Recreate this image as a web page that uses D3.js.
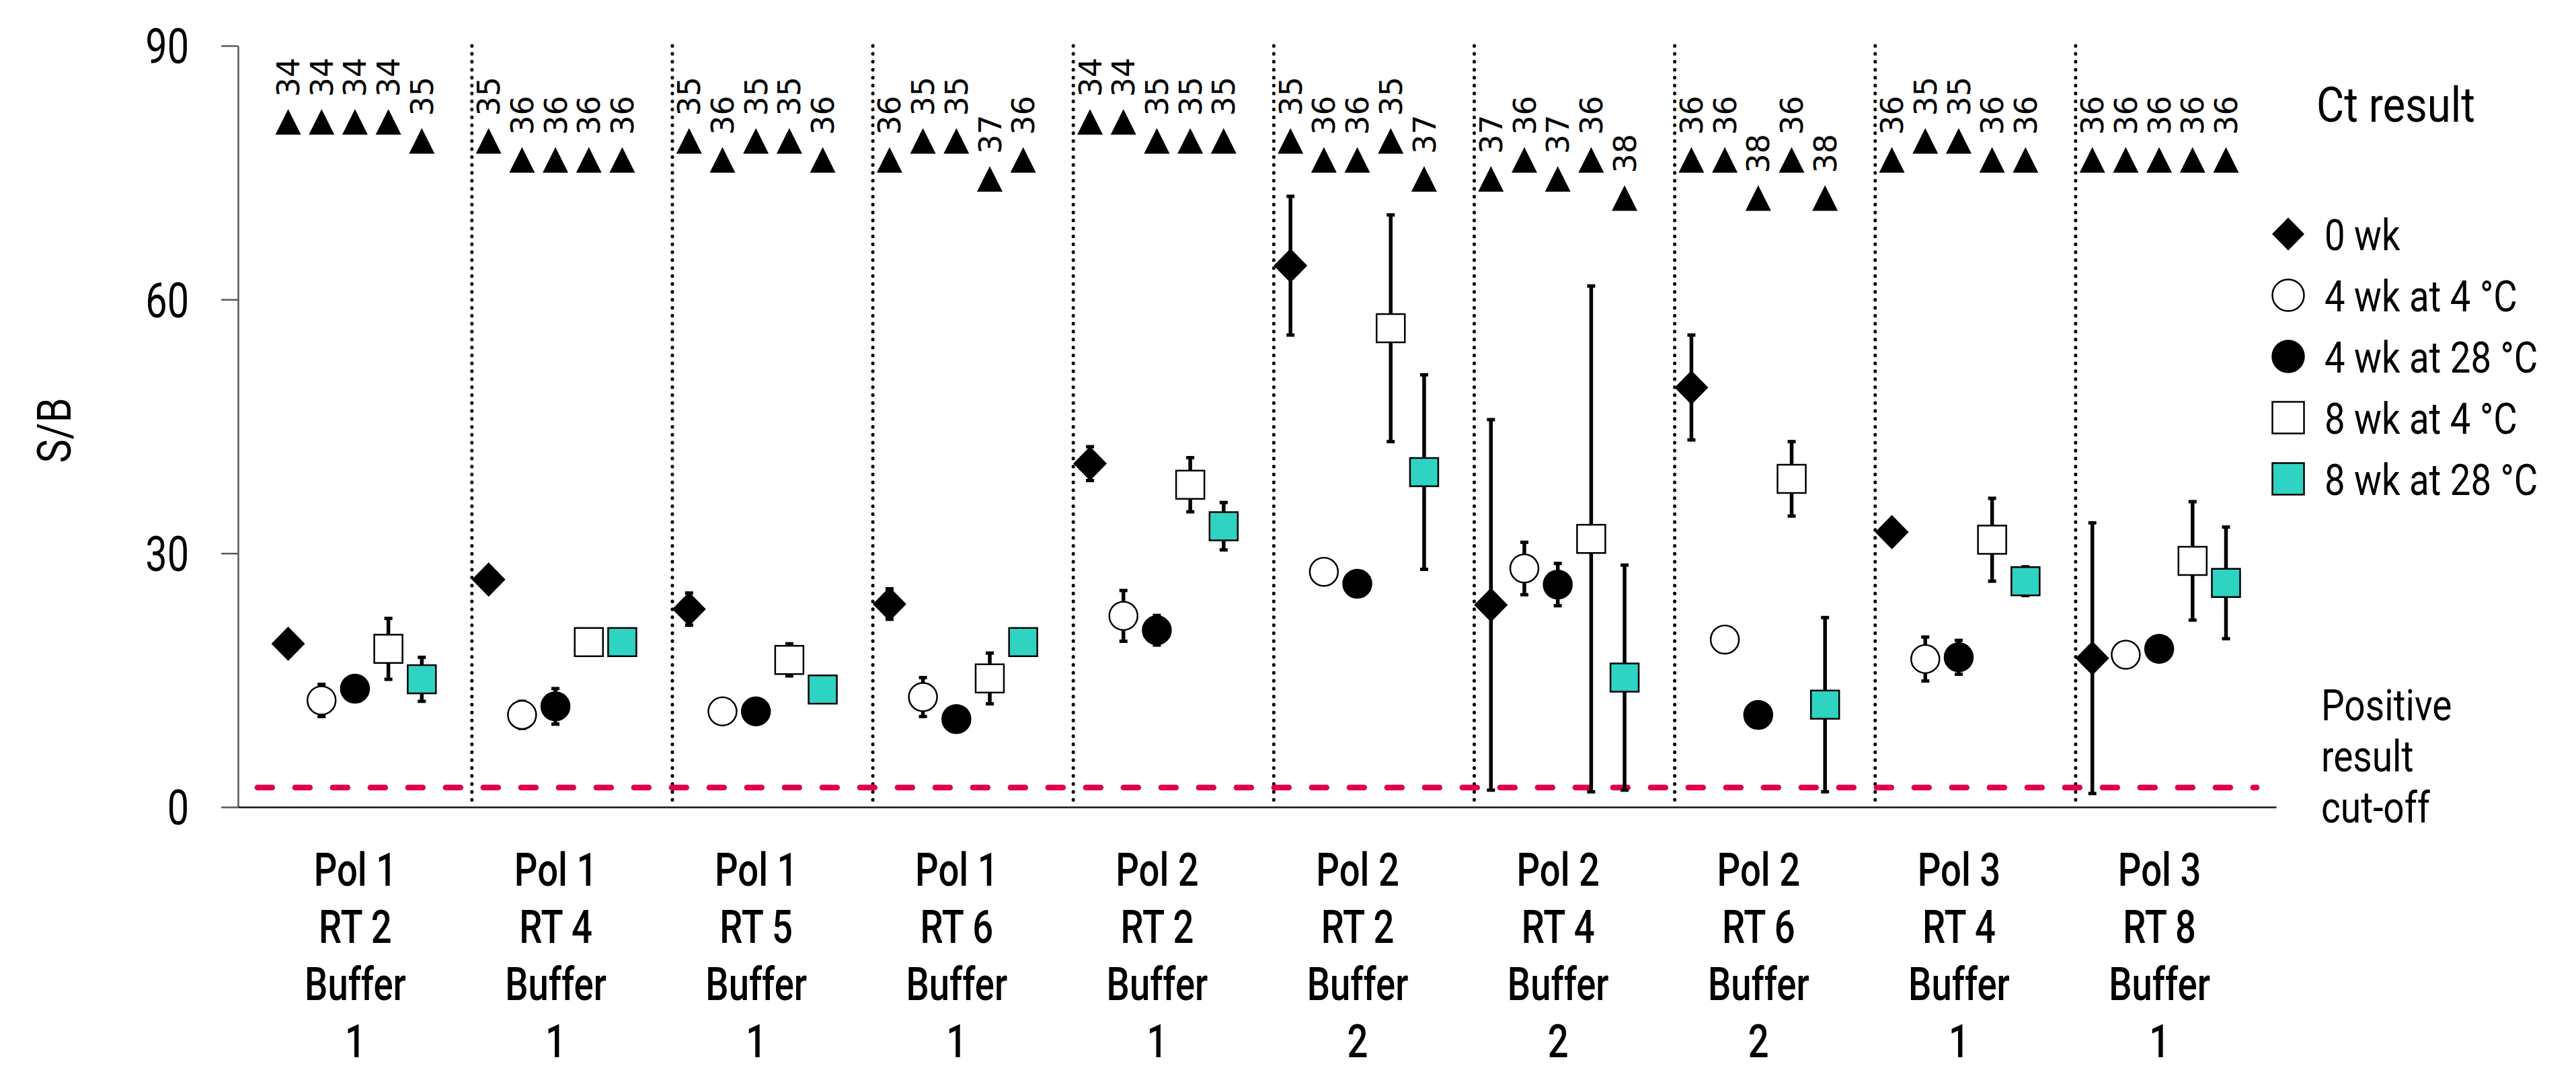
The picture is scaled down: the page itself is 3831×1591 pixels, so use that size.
<!DOCTYPE html>
<html lang="en">
<head>
<meta charset="utf-8">
<title>S/B and Ct result by storage condition</title>
<script src="https://d3js.org/d3.v7.min.js"></script>
<style>
  html, body { margin: 0; padding: 0; background: #fff; overflow: hidden; }
  svg { display: block; font-family: Roboto, "Open Sans", sans-serif; }
</style>
</head>
<body>
<div id="chart"></div>
<script>
// ---- values ----
var pol    = ["Pol 1", "Pol 1", "Pol 1", "Pol 1", "Pol 2", "Pol 2", "Pol 2", "Pol 2", "Pol 3", "Pol 3"];
var rt     = ["RT 2", "RT 4", "RT 5", "RT 6", "RT 2", "RT 2", "RT 4", "RT 6", "RT 4", "RT 8"];
var buffer = ["1", "1", "1", "1", "1", "2", "2", "2", "1", "1"];

var seriesNames = ["0 wk", "4 wk at 4 °C", "4 wk at 28 °C", "8 wk at 4 °C", "8 wk at 28 °C"];

// mean S/B
var sb0    = [19.3, 26.9, 23.4, 24.0, 40.6, 64.0, 23.9, 49.6, 32.5, 17.6];
var sb4c4  = [12.6, 10.9, 11.3, 13.0, 22.6, 27.8, 28.2, 19.8, 17.5, 18.0];
var sb4c28 = [14.0, 11.9, 11.3, 10.4, 20.9, 26.4, 26.3, 10.9, 17.7, 18.7];
var sb8c4  = [18.7, 19.5, 17.4, 15.2, 38.1, 56.6, 31.7, 38.8, 31.6, 29.1];
var sb8c28 = [15.1, 19.5, 13.9, 19.5, 33.2, 39.6, 15.3, 12.1, 26.7, 26.5];

// error bar half-lengths (0 = none visible)
var err0    = [0, 0, 1.9, 1.8, 2.0, 8.2, 21.9, 6.2, 0, 16.0];
var err4c4  = [1.9, 1.6, 0, 2.3, 3.0, 0, 3.1, 0, 2.6, 0];
var err4c28 = [0, 2.1, 0, 0, 1.75, 0, 2.5, 0, 2.0, 0];
var err8c4  = [3.6, 0, 1.9, 3.0, 3.2, 13.4, 29.9, 4.4, 4.9, 7.0];
var err8c28 = [2.6, 0, 0, 0, 2.8, 11.5, 13.3, 10.3, 1.7, 6.6];

// Ct result
var ct0    = [34, 35, 35, 36, 34, 35, 37, 36, 36, 36];
var ct4c4  = [34, 36, 36, 35, 34, 36, 36, 36, 35, 36];
var ct4c28 = [34, 36, 35, 35, 35, 36, 37, 38, 35, 36];
var ct8c4  = [34, 36, 35, 37, 35, 35, 36, 36, 36, 36];
var ct8c28 = [35, 36, 36, 36, 35, 37, 38, 38, 36, 36];

var cutoff = 2.3;
var yTicks = [0, 30, 60, 90];

// ---- layout ----
var W = 3831, H = 1591;
var teal = "#2ed3c2", red = "#e0004d";

var series = [
  {name: seriesNames[0], val: sb0,    err: err0,    ct: ct0,    shape: "diamond", fill: "#000"},
  {name: seriesNames[1], val: sb4c4,  err: err4c4,  ct: ct4c4,  shape: "circle",  fill: "#fff"},
  {name: seriesNames[2], val: sb4c28, err: err4c28, ct: ct4c28, shape: "circle",  fill: "#000"},
  {name: seriesNames[3], val: sb8c4,  err: err8c4,  ct: ct8c4,  shape: "square",  fill: "#fff"},
  {name: seriesNames[4], val: sb8c28, err: err8c28, ct: ct8c28, shape: "square",  fill: teal}
];

var svg = d3.select("#chart").append("svg")
    .attr("width", W)
    .attr("height", H);

// each group takes 6 slots: 5 markers + a gap
var x = d3.scaleLinear().domain([-0.5, 60.5]).range([354, 3385]);
var y = d3.scaleLinear().domain([0, 90]).range([1200, 68]);
// Ct value -> height on the S/B axis where the triangle sits
var ctScale = d3.scaleLinear().domain([34, 38]).range([81, 72]);

function slot(i, j) { return 6 * i + j + 1; }

function shapePath(shape, s) {
  var h = s / 2;
  if (shape === "diamond") {
    var w = h * 0.98;
    return "M0," + (-h) + "L" + w + ",0L0," + h + "L" + (-w) + ",0Z";
  }
  if (shape === "square") {
    return "M" + (-h) + "," + (-h) + "h" + s + "v" + s + "h" + (-s) + "Z";
  }
  if (shape === "triangle") {
    return "M0," + (-h) + "L" + h + "," + h + "L" + (-h) + "," + h + "Z";
  }
  // circle
  return "M" + (-h) + ",0a" + h + "," + h + " 0 1,0 " + s + ",0a" + h + "," + h + " 0 1,0 " + (-s) + ",0Z";
}

// ---- y axis ----
var gy = svg.append("g")
    .attr("transform", "translate(" + x(-0.5) + ",0)")
    .call(d3.axisLeft(y).tickValues(yTicks).tickSize(25).tickSizeOuter(0));
gy.select(".domain").attr("stroke", "#595959").attr("stroke-width", 2.5);
gy.selectAll(".tick line").attr("stroke", "#595959").attr("stroke-width", 2.5);
gy.selectAll(".tick text")
    .attr("font-size", 72)
    .attr("font-family", "Roboto, sans-serif")
    .attr("fill", "#000")
    .attr("x", -73 / 0.8)
    .attr("dy", "0.36em")
    .attr("transform", "scale(0.8,1)");

svg.append("text")
    .attr("transform", "translate(80,640) rotate(-90) scale(0.85,1)")
    .attr("text-anchor", "middle")
    .attr("dy", "0.36em")
    .attr("font-size", 70)
    .text("S/B");

// ---- x axis with stacked category labels ----
var gx = svg.append("g")
    .attr("transform", "translate(0," + y(0) + ")")
    .call(d3.axisBottom(x)
      .tickValues(d3.range(pol.length).map(function (i) { return 6 * i + 3; }))
      .tickSize(0)
      .tickSizeOuter(0));
gx.select(".domain").attr("stroke", "#111").attr("stroke-width", 2.5);
gx.selectAll(".tick text").each(function (d, i) {
  var t = d3.select(this).text(null).attr("dy", null)
      .attr("font-size", 68)
      .attr("font-weight", 500)
      .attr("font-family", "Roboto, sans-serif")
      .attr("fill", "#000")
      .attr("transform", "scale(0.8,1)");
  [pol[i], rt[i], "Buffer", buffer[i]].forEach(function (s, k) {
    t.append("tspan").attr("x", 0).attr("y", 117 + k * 85).text(s);
  });
});

// ---- group dividers ----
svg.append("g").selectAll("line")
  .data(d3.range(1, pol.length))
  .join("line")
    .attr("x1", function (k) { return x(6 * k + 0.5); })
    .attr("x2", function (k) { return x(6 * k + 0.5); })
    .attr("y1", y(90))
    .attr("y2", y(0))
    .attr("stroke", "#000")
    .attr("stroke-width", 5)
    .attr("stroke-linecap", "round")
    .attr("stroke-dasharray", "0.5,11.3");

// ---- positive cut-off ----
svg.append("line")
    .attr("x1", x(0) + 4).attr("x2", x(60) - 4)
    .attr("y1", y(cutoff)).attr("y2", y(cutoff))
    .attr("stroke", red)
    .attr("stroke-width", 8.5)
    .attr("stroke-linecap", "round")
    .attr("stroke-dasharray", "22,34");

// ---- points ----
var pts = [];
series.forEach(function (s, j) {
  s.val.forEach(function (v, i) {
    pts.push({i: i, j: j, v: v, e: s.err[i], ct: s.ct[i], s: s});
  });
});

var gErr = svg.append("g").attr("stroke", "#000");
pts.filter(function (d) { return d.e > 0; }).forEach(function (d) {
  var cx = x(slot(d.i, d.j));
  gErr.append("line")
      .attr("x1", cx).attr("x2", cx)
      .attr("y1", y(d.v + d.e)).attr("y2", y(d.v - d.e))
      .attr("stroke-width", 5.5);
  [d.v + d.e, d.v - d.e].forEach(function (b) {
    gErr.append("line")
        .attr("x1", cx - 6).attr("x2", cx + 6)
        .attr("y1", y(b)).attr("y2", y(b))
        .attr("stroke-width", 5);
  });
});

svg.append("g").selectAll("path")
  .data(pts)
  .join("path")
    .attr("transform", function (d) { return "translate(" + x(slot(d.i, d.j)) + "," + y(d.v) + ")"; })
    .attr("d", function (d) { return shapePath(d.s.shape, d.s.shape === "diamond" ? 51 : 42); })
    .attr("fill", function (d) { return d.s.fill; })
    .attr("stroke", "#000")
    .attr("stroke-width", function (d) { return d.s.shape === "diamond" ? 0 : 2.5; });

// ---- Ct triangles and labels ----
svg.append("g").selectAll("path")
  .data(pts)
  .join("path")
    .attr("transform", function (d) { return "translate(" + x(slot(d.i, d.j)) + "," + y(ctScale(d.ct)) + ")"; })
    .attr("d", shapePath("triangle", 38))
    .attr("fill", "#000");

svg.append("g").selectAll("text")
  .data(pts)
  .join("text")
    .attr("transform", function (d) {
      return "translate(" + x(slot(d.i, d.j)) + "," + (y(ctScale(d.ct)) - 37) + ") rotate(-90)";
    })
    .attr("dy", "0.36em")
    .attr("font-size", 46)
    .attr("font-family", "'DejaVu Sans', sans-serif")
    .attr("fill", "#000")
    .text(function (d) { return d.ct; });

// ---- legend ----
svg.append("text")
    .attr("transform", "translate(3445,181) scale(0.88,1)")
    .attr("font-size", 72)
    .text("Ct result");

var leg = svg.append("g").selectAll("g")
  .data(series)
  .join("g")
    .attr("transform", function (d, k) { return "translate(3403," + (348 + k * 91) + ")"; });
leg.append("path")
    .attr("d", function (d) { return shapePath(d.shape, d.shape === "diamond" ? 49 : 47); })
    .attr("fill", function (d) { return d.fill; })
    .attr("stroke", "#000")
    .attr("stroke-width", function (d) { return d.shape === "diamond" ? 0 : 2.5; });
leg.append("text")
    .attr("transform", "translate(54,24) scale(0.85,1)")
    .attr("font-size", 64)
    .text(function (d) { return d.name; });

var cutText = svg.append("text")
    .attr("transform", "translate(3452,0) scale(0.86,1)")
    .attr("font-size", 64);
["Positive", "result", "cut-off"].forEach(function (s, k) {
  cutText.append("tspan").attr("x", 0).attr("y", 1071 + k * 76).text(s);
});
</script>
</body>
</html>
